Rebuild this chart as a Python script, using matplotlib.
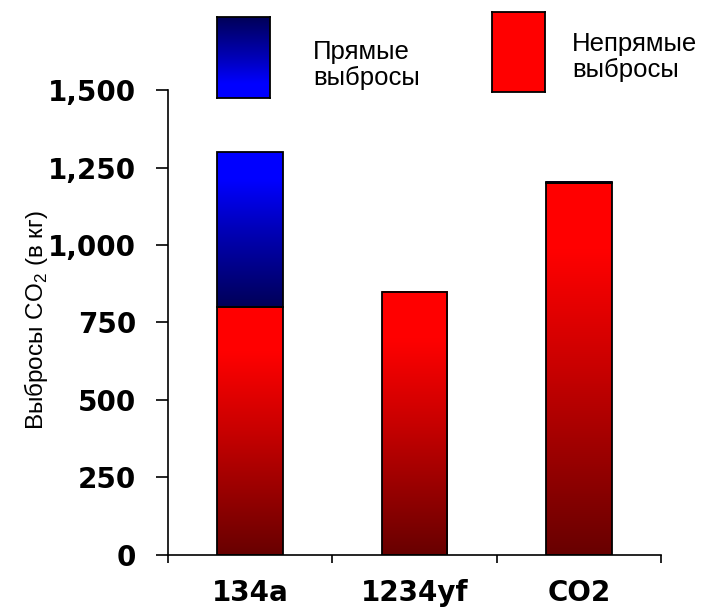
import matplotlib

matplotlib.use("Agg")
import matplotlib.pyplot as plt  # noqa: E402
import numpy as np  # noqa: E402
from matplotlib.colors import LinearSegmentedColormap  # noqa: E402
from matplotlib.ticker import FuncFormatter  # noqa: E402

# CO2 emissions per refrigerant, kg
refrigerants = ["134a", "1234yf", "CO2"]
indirect = [800, 850, 1200]
direct = [500, 0, 4]
yticks = [0, 250, 500, 750, 1000, 1250, 1500]

label_direct = "Прямые\nвыбросы"
label_indirect = "Непрямые\nвыбросы"
ylabel = "Выбросы CO$_\\mathregular{2}$ (в кг)"

RED = LinearSegmentedColormap.from_list(
    "red_grad", [(0.0, "#680000"), (0.5, "#c80000"), (0.82, "#ff0000"), (1.0, "#ff0000")]
)
BLUE = LinearSegmentedColormap.from_list(
    "blue_grad", [(0.0, "#000058"), (0.5, "#0000b8"), (0.82, "#0000ff"), (1.0, "#0000ff")]
)

plt.rcParams["font.family"] = ["Liberation Sans", "DejaVu Sans"]
TICK_FONT = {"family": "DejaVu Sans", "weight": "bold", "size": 20}

fig = plt.figure(figsize=(7.04, 6.07), dpi=100)
ax = fig.add_axes([0.2386, 0.0857, 0.7003, 0.766])

grad = np.linspace(0, 1, 256).reshape(-1, 1)
width = 0.4


def gradient_bar(x, bottom, height, cmap):
    """Vertical gradient fill (dark bottom -> bright top) with a black frame."""
    if height <= 0:
        return
    ax.imshow(grad, cmap=cmap, origin="lower", aspect="auto", interpolation="bilinear",
              extent=(x - width / 2, x + width / 2, bottom, bottom + height), zorder=2)
    ax.add_patch(plt.Rectangle((x - width / 2, bottom), width, height, fill=False,
                               edgecolor="black", linewidth=1.3, zorder=3))


for i, name in enumerate(refrigerants):
    gradient_bar(i, 0, indirect[i], RED)
    gradient_bar(i, indirect[i], direct[i], BLUE)

ax.set_xlim(-0.5, len(refrigerants) - 0.5)
ax.set_ylim(0, 1500)
ax.set_yticks(yticks)
ax.yaxis.set_major_formatter(FuncFormatter(lambda v, _: f"{int(v):,}"))
ax.set_xticks(np.arange(len(refrigerants) + 1) - 0.5)
ax.set_xticklabels([])
ax.set_xticks(np.arange(len(refrigerants)), minor=True)
ax.set_xticklabels(refrigerants, minor=True, fontdict=TICK_FONT)
ax.tick_params(axis="x", which="major", direction="out", length=6, width=1.2)
ax.tick_params(axis="x", which="minor", length=0, pad=17)
ax.tick_params(axis="y", direction="out", length=9, width=1.2, pad=14)
for lbl in ax.get_yticklabels():
    lbl.set_fontproperties(TICK_FONT)
ax.spines[["top", "right"]].set_visible(False)
ax.spines[["left", "bottom"]].set_linewidth(1.2)
ax.set_ylabel(ylabel, fontsize=17.5)
ax.yaxis.set_label_coords(-0.24, 0.505)

# legend swatches drawn in figure coordinates
W, H = 704, 607


def swatch(x0, y0, x1, y1, cmap, flip):
    sax = fig.add_axes([x0 / W, 1 - y1 / H, (x1 - x0) / W, (y1 - y0) / H])
    sax.imshow(grad[::-1] if flip else grad, cmap=cmap, origin="lower", aspect="auto",
               interpolation="bilinear")
    sax.set_xticks([])
    sax.set_yticks([])
    for s in sax.spines.values():
        s.set_linewidth(1.3)


swatch(217, 17, 270, 98, BLUE, flip=True)
swatch(492, 12, 545, 92, LinearSegmentedColormap.from_list("flat", ["#ff0000", "#ff0000"]), flip=False)
fig.text(313 / W, 1 - 40 / H, label_direct, fontsize=18.5, va="top", ha="left", linespacing=1.12)
fig.text(572 / W, 1 - 32 / H, label_indirect, fontsize=18.5, va="top", ha="left", linespacing=1.12)

fig.savefig("out.png", dpi=100)
